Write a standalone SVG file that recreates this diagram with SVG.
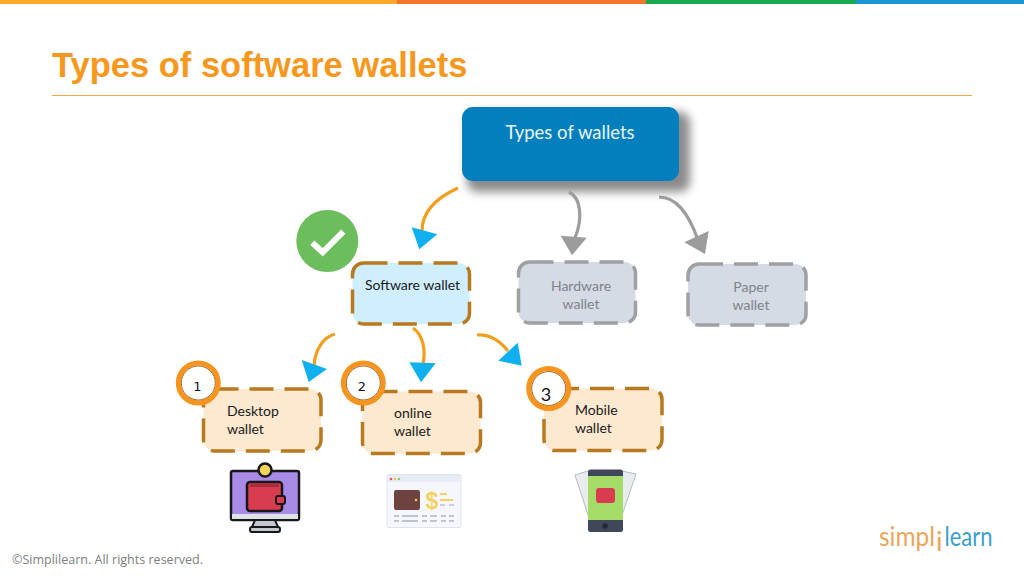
<svg xmlns="http://www.w3.org/2000/svg" width="1024" height="576" viewBox="0 0 1024 576">
<style>
.lb{font-family:Lato,"Liberation Sans",sans-serif;font-size:14px;fill:#1a1a1a}
.gr{fill:#7f8388}
.bo{fill:#fde9cf;stroke:#b87a1e;stroke-width:3.5;stroke-dasharray:24 11}
.bg{fill:#d5dbe5;stroke:#a0a0a2;stroke-width:3.5;stroke-dasharray:24 11}
.l{fill:none;stroke-width:3.2}
.o{stroke:#f49f1c}.g{stroke:#9c9c9c}
.hb{fill:#10aff0}.hg{fill:#9c9c9c}
.ring{fill:#fff;stroke:#f7941d;stroke-width:5}
.rin{fill:none;stroke:#a8681a;stroke-width:1}
.num{font-family:"DejaVu Sans",sans-serif;font-size:13px;fill:#111;text-anchor:middle}
</style>
<defs><filter id="b" x="-20%" y="-30%" width="140%" height="160%"><feGaussianBlur stdDeviation="5"/></filter></defs>
<rect width="1024" height="576" fill="#fff"/>
<g id="topbar">
<rect x="0" y="0" width="397" height="4" fill="#fca82a"/>
<rect x="397" y="0" width="249" height="4" fill="#f4742c"/>
<rect x="646" y="0" width="210" height="4" fill="#1ba650"/>
<rect x="856" y="0" width="168" height="4" fill="#1b95d6"/>
</g>
<text x="52" y="77" font-family="Liberation Sans,sans-serif" font-weight="700" font-size="34.5" fill="#f7981d">Types of software wallets</text>
<rect x="52" y="95" width="920" height="1" fill="#f0a93c"/>

<g id="root">
<rect x="467" y="112" width="223" height="80" rx="10" fill="#777" opacity=".85" filter="url(#b)"/>
<rect x="462" y="107" width="217" height="74" rx="11" fill="#027fbc"/>
<text x="570" y="139" text-anchor="middle" font-family="Lato,sans-serif" font-size="18.5" fill="#e8f6fc">Types of wallets</text>
</g>

<g id="connectors">
<path class="l o" d="M458 188C436 198 422 212 422 231"/>
<polygon class="hb" points="411.7,227.3 437.3,234.3 419.3,249.3"/>
<path class="l g" d="M569 192C581 198 583 218 575 238"/>
<polygon class="hg" points="560.7,235.7 586.7,237.7 572,255.3"/>
<path class="l g" d="M659 197C676 197 688 212 698 240"/>
<polygon class="hg" points="684.3,242.3 708.7,231 705,254"/>
<path class="l o" d="M335 334C323 337 315 350 314 366"/>
<polygon class="hb" points="301.7,360 327,369 308.7,382"/>
<path class="l o" d="M413 328C423 335 426 350 423 364"/>
<polygon class="hb" points="409.3,362.3 435.7,363.3 421,382.3"/>
<path class="l o" d="M477 335C490 334 500 341 508 351"/>
<polygon class="hb" points="498.3,360.7 517.7,342.7 521.7,365.7"/>
</g>

<g id="check">
<circle cx="327.3" cy="241" r="31" fill="#6cbd5c"/>
<polyline points="312.3,242.7 322.7,252.3 343.3,231.7" fill="none" stroke="#fff" stroke-width="6"/>
</g>

<g id="software">
<rect x="352.5" y="263" width="117" height="61" rx="11" fill="#cfeeff" stroke="#b87a1e" stroke-width="3.5" stroke-dasharray="24 11"/>
<text class="lb" x="365" y="290">Software wallet</text>
</g>
<g id="hardware">
<rect class="bg" x="518.5" y="262" width="117" height="61" rx="11"/>
<text class="lb gr" x="581" y="291" text-anchor="middle">Hardware</text>
<text class="lb gr" x="581" y="309" text-anchor="middle">wallet</text>
</g>
<g id="paper">
<rect class="bg" x="688" y="264" width="118" height="61" rx="11"/>
<text class="lb gr" x="751" y="292" text-anchor="middle">Paper</text>
<text class="lb gr" x="751" y="310" text-anchor="middle">wallet</text>
</g>

<g id="desktop">
<rect class="bo" x="203.5" y="389" width="117.500" height="62" rx="11"/>
<circle class="ring" cx="198.300" cy="383" r="20"/><circle class="rin" cx="198.300" cy="383" r="17"/>
<text class="num" x="197.500" y="391">1</text>
<text class="lb" x="227" y="416">Desktop</text>
<text class="lb" x="227" y="434">wallet</text>
</g>
<g id="online">
<rect class="bo" x="362.500" y="391.500" width="118" height="62" rx="11"/>
<circle class="ring" cx="363.300" cy="383" r="20"/><circle class="rin" cx="363.300" cy="383" r="17"/>
<text class="num" x="362" y="391">2</text>
<text class="lb" x="394" y="418">online</text>
<text class="lb" x="394" y="436">wallet</text>
</g>
<g id="mobile">
<rect class="bo" x="544" y="388.500" width="118" height="62" rx="11"/>
<circle class="ring" cx="548.700" cy="388.500" r="20"/><circle class="rin" cx="548.700" cy="388.500" r="17"/>
<text x="546" y="401" font-family="Lato,sans-serif" font-size="18" fill="#111" text-anchor="middle">3</text>
<text class="lb" x="575" y="415">Mobile</text>
<text class="lb" x="575" y="433">wallet</text>
</g>

<g id="icon-desktop">
<rect x="231" y="471" width="68" height="49" rx="2" fill="#a78be6" stroke="#17171c" stroke-width="2.500"/>
<rect x="232" y="514" width="66" height="5" fill="#dfe3e8"/>
<path d="M255 520h20l3 7h-26z" fill="#c4c8cf" stroke="#17171c" stroke-width="2"/>
<rect x="250" y="527" width="30" height="5" rx="2" fill="#c4c8cf" stroke="#17171c" stroke-width="2"/>
<circle cx="265" cy="470" r="6.500" fill="#f7d35a" stroke="#17171c" stroke-width="2.500"/>
<rect x="247" y="482" width="35" height="29" rx="3" fill="#d83c4e" stroke="#17171c" stroke-width="2.500"/>
<rect x="250" y="484" width="29" height="3" fill="#a82d3c"/>
<rect x="276" y="496" width="9" height="8" rx="2" fill="#d83c4e" stroke="#17171c" stroke-width="2"/>
</g>
<g id="icon-browser">
<rect x="387" y="474.500" width="74" height="53" rx="2" fill="#f5f7fd" stroke="#dfe3f0"/>
<rect x="387.500" y="475" width="73" height="7" fill="#e6ebf6"/>
<circle cx="391" cy="479" r="1.300" fill="#e0546a"/><circle cx="395" cy="479" r="1.300" fill="#f2c94c"/><circle cx="399" cy="479" r="1.300" fill="#8fcf6a"/>
<rect x="394" y="490" width="26" height="20" rx="2" fill="#6d4240"/>
<circle cx="416" cy="500" r="1.300" fill="#f2c94c"/>
<text x="432" y="509" text-anchor="middle" font-family="Liberation Sans,sans-serif" font-weight="700" font-size="23" fill="#f5d25f">$</text>
<path d="M440 494h7M440 500h13" stroke="#f5d25f" stroke-width="2"/>
<path d="M440 505h5M449 505h5" stroke="#c9cfdc" stroke-width="2"/>
<path d="M394 516h5M402 516h16M422 516h5M430 516h7M441 516h5M449 516h5M394 521h5M402 521h16M422 521h5M430 521h7M441 521h5M449 521h5" stroke="#bcc4d2" stroke-width="2"/>
</g>
<g id="icon-phone">
<polygon points="575,475 588,471 622,471 636,474 620,521 590,521" fill="#e8ecee" stroke="#b6bcc2"/>
<rect x="588" y="469.500" width="35" height="62.500" rx="2.500" fill="#3f4759"/>
<rect x="588" y="476" width="35" height="44" fill="#a5dc67"/>
<circle cx="605" cy="526" r="2.800" fill="#23293a"/>
<rect x="596" y="488" width="19" height="15" rx="3" fill="#d83c4e"/>
</g>

<g id="logo">
<text x="879" y="546" font-family="Lato,sans-serif" font-size="27" fill="#eba55c" textLength="56" lengthAdjust="spacingAndGlyphs">simpl</text>
<text x="936" y="551" font-family="Lato,sans-serif" font-size="27" fill="#eba55c">i</text>
<text x="944.500" y="546" font-family="Lato,sans-serif" font-size="27" fill="#3c9fcb" textLength="48" lengthAdjust="spacingAndGlyphs">learn</text>
</g>
<text x="12" y="564" font-family="Open Sans,sans-serif" font-size="13" fill="#808080" textLength="191" lengthAdjust="spacingAndGlyphs">©Simplilearn. All rights reserved.</text>
</svg>
